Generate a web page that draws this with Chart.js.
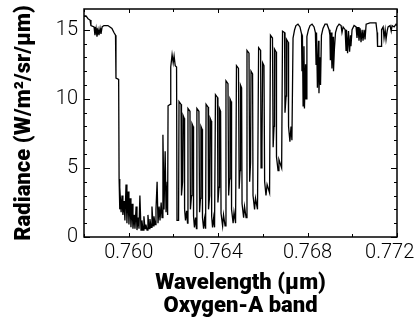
<!DOCTYPE html>
<html>
<head>
<meta charset="utf-8">
<script src="https://cdn.jsdelivr.net/npm/chart.js@4.4.1/dist/chart.umd.min.js"></script>
<style>
  html, body { margin: 0; padding: 0; background: #fff; }
  #wrap { width: 417px; height: 320px; }
</style>
</head>
<body>
<div id="wrap"><canvas id="grafico" width="417" height="320"></canvas></div>
<script>
// espectro (banda A do oxigênio)
const wavelength = [
  0.75800, 0.75809, 0.75818, 0.75827, 0.75831, 0.75845, 0.75849, 0.75854, 0.75858, 0.75863,
  0.75867, 0.75872, 0.75876, 0.75881, 0.75889, 0.75907, 0.75916, 0.75925, 0.75934, 0.75941,
  0.75943, 0.75955, 0.75957,
  0.75959, 0.75961, 0.75966, 0.75970, 0.75974, 0.75979, 0.75983, 0.75988, 0.75992, 0.75997,
  0.76001, 0.76006, 0.76010, 0.76015, 0.76019, 0.76024, 0.76028, 0.76033, 0.76037, 0.76042,
  0.76046, 0.76050, 0.76055, 0.76059, 0.76064, 0.76068, 0.76073, 0.76077, 0.76082, 0.76086,
  0.76091, 0.76095, 0.76100, 0.76104, 0.76109, 0.76113, 0.76118, 0.76122, 0.76127, 0.76131,
  0.76136, 0.76140, 0.76145, 0.76149, 0.76153, 0.76158, 0.76163, 0.76167, 0.76172, 0.76174,
  0.76176, 0.76185, 0.76188, 0.76194, 0.76199, 0.76203, 0.76208, 0.76214, 0.76216, 0.76223,
  0.76225, 0.76234, 0.76236, 0.76241, 0.76243, 0.76248, 0.76250, 0.76254, 0.76259, 0.76263,
  0.76265, 0.76274, 0.76276, 0.76281, 0.76283, 0.76288, 0.76290, 0.76294, 0.76299, 0.76303,
  0.76305, 0.76314, 0.76317, 0.76321, 0.76323, 0.76328, 0.76330, 0.76335, 0.76339, 0.76344,
  0.76346, 0.76355, 0.76357, 0.76362, 0.76364, 0.76369, 0.76371, 0.76375, 0.76380, 0.76384,
  0.76388, 0.76397, 0.76399, 0.76404, 0.76406, 0.76411, 0.76413, 0.76420, 0.76424, 0.76431,
  0.76435, 0.76444, 0.76447, 0.76451, 0.76453, 0.76458, 0.76460, 0.76467, 0.76471, 0.76478,
  0.76482, 0.76491, 0.76494, 0.76498, 0.76500, 0.76505, 0.76507, 0.76514, 0.76518, 0.76525,
  0.76529, 0.76538, 0.76541, 0.76545, 0.76547, 0.76554, 0.76556, 0.76563, 0.76567, 0.76576,
  0.76581, 0.76590, 0.76592, 0.76596, 0.76599, 0.76605, 0.76608, 0.76614, 0.76619, 0.76630,
  0.76634, 0.76643, 0.76646, 0.76650, 0.76652, 0.76659, 0.76661, 0.76668, 0.76672, 0.76684,
  0.76688, 0.76697, 0.76699, 0.76704, 0.76706, 0.76713, 0.76715, 0.76721, 0.76726, 0.76730,
  0.76735, 0.76742, 0.76748, 0.76757, 0.76766, 0.76773,
  0.76775, 0.76777, 0.76780, 0.76784, 0.76786, 0.76791, 0.76793, 0.76797, 0.76804, 0.76811,
  0.76820, 0.76829, 0.76835,
  0.76838, 0.76840, 0.76844, 0.76849, 0.76851, 0.76855, 0.76858, 0.76862, 0.76869, 0.76878,
  0.76887, 0.76896, 0.76900,
  0.76902, 0.76905, 0.76909, 0.76914, 0.76916, 0.76920, 0.76925, 0.76932, 0.76941, 0.76950,
  0.76954, 0.76959, 0.76968,
  0.76972, 0.76974, 0.76979, 0.76983, 0.76988, 0.76992, 0.76994, 0.76999, 0.77008, 0.77017,
  0.77021, 0.77026, 0.77030, 0.77035, 0.77039, 0.77044, 0.77048, 0.77053, 0.77057, 0.77062,
  0.77079, 0.77106, 0.77111, 0.77113, 0.77129, 0.77131, 0.77138, 0.77142, 0.77147, 0.77151,
  0.77156, 0.77160, 0.77169, 0.77174, 0.77178, 0.77187, 0.77196, 0.77200
];

const radiance = [
  16.0, 16.0, 15.8, 15.7, 15.3, 15.2, 14.6, 15.1, 14.5, 15.0,
  14.6, 15.1, 14.7, 15.2, 15.3, 15.3, 15.2, 15.1, 14.8, 14.6,
  11.5, 11.4, 4.2,
  2.0, 3.6, 1.8, 3.0, 1.6, 2.6, 1.2, 3.8, 1.0, 3.3,
  0.9, 2.8, 0.7, 2.4, 0.6, 1.6, 0.6, 2.2, 0.5, 1.4,
  0.6, 3.0, 0.5, 1.2, 0.5, 1.5, 0.6, 0.9, 0.5, 1.6,
  0.6, 1.3, 0.7, 2.2, 0.8, 1.5, 0.9, 2.0, 4.0, 1.0,
  2.2, 1.2, 2.5, 1.4, 7.4, 2.0, 6.2, 1.8, 4.0, 1.6,
  9.5, 9.6, 12.3, 13.2, 12.6, 13.1, 12.4, 12.3, 1.2, 1.2,
  9.8, 9.6, 3.0, 4.0, 8.8, 8.6, 2.0, 1.2, 1.9, 1.0,
  9.3, 9.1, 2.0, 3.0, 8.2, 8.0, 1.5, 0.7, 1.4, 0.6,
  9.3, 9.1, 1.8, 2.8, 8.0, 7.8, 1.4, 0.6, 1.3, 0.6,
  9.6, 9.4, 2.0, 3.0, 8.6, 8.4, 1.5, 0.7, 1.4, 0.7,
  10.3, 10.1, 2.5, 3.6, 9.3, 9.1, 1.7, 0.8, 1.6, 0.8,
  11.3, 11.1, 3.0, 4.2, 10.0, 9.8, 2.0, 1.0, 1.8, 1.0,
  12.4, 12.2, 3.5, 4.8, 11.0, 10.8, 2.4, 1.4, 2.2, 1.4,
  13.5, 13.3, 4.0, 5.4, 12.0, 11.8, 3.0, 2.0, 2.8, 2.0,
  13.7, 13.5, 5.0, 6.5, 12.6, 12.4, 4.0, 3.0, 3.8, 3.2,
  14.6, 14.4, 6.5, 8.0, 13.6, 13.4, 5.8, 4.8, 5.6, 5.0,
  14.9, 14.8, 9.0, 10.2, 14.3, 14.1, 8.0, 6.9, 8.0, 7.0,
  14.4, 15.0, 15.3, 15.4, 15.2, 14.7,
  12.0, 14.6, 9.5, 13.8, 9.3, 12.5, 10.0, 14.5, 15.0, 15.3,
  15.4, 15.2, 14.8,
  12.5, 14.8, 10.8, 14.2, 10.4, 13.0, 11.0, 14.6, 15.1, 15.4,
  15.4, 15.0, 14.6,
  12.8, 14.8, 12.2, 14.5, 12.0, 13.6, 14.8, 15.2, 15.4, 15.3,
  14.8, 15.2, 15.0,
  13.5, 15.0, 13.3, 14.9, 13.4, 14.6, 13.8, 15.0, 15.3, 15.2,
  14.4, 15.2, 14.2, 15.1, 14.1, 15.0, 14.2, 15.0, 14.3, 15.4,
  15.5, 15.5, 14.8, 13.8, 13.8, 15.0, 15.2, 14.4, 15.0, 14.3,
  14.9, 15.2, 15.3, 14.9, 15.3, 15.2, 15.4, 15.3
];

const xTickValues = [0.760, 0.764, 0.768, 0.772];
const xMinorTicks = [0.758, 0.760, 0.762, 0.764, 0.766, 0.768, 0.770, 0.772];
const yTickValues = [0, 5, 10, 15];
const yMinorTicks = [0, 1, 2, 3, 4, 5, 6, 7, 8, 9, 10, 11, 12, 13, 14, 15, 16];

const fonte = "Roboto, 'Liberation Sans', Arial, sans-serif";

// moldura fechada e ticks para dentro nos quatro lados
const moldura = {
  id: 'moldura',
  afterDatasetsDraw(chart) {
    const { ctx, chartArea: a, scales: { x, y } } = chart;
    ctx.save();
    ctx.strokeStyle = '#000';
    ctx.lineWidth = 1;
    ctx.beginPath();
    xMinorTicks.forEach((v) => {
      const px = Math.round(x.getPixelForValue(v)) + 0.5;
      const len = xTickValues.includes(v) ? 4 : 3;
      ctx.moveTo(px, a.bottom); ctx.lineTo(px, a.bottom - len);
      ctx.moveTo(px, a.top); ctx.lineTo(px, a.top + len);
    });
    yMinorTicks.forEach((v) => {
      const py = Math.round(y.getPixelForValue(v)) + 0.5;
      const len = yTickValues.includes(v) ? 6 : 3;
      ctx.moveTo(a.left, py); ctx.lineTo(a.left + len, py);
      ctx.moveTo(a.right, py); ctx.lineTo(a.right - len, py);
    });
    ctx.stroke();
    ctx.lineWidth = 1.5;
    ctx.strokeRect(a.left, a.top, a.right - a.left, a.bottom - a.top);
    ctx.restore();
  }
};

new Chart(document.getElementById('grafico'), {
  type: 'line',
  data: {
    datasets: [{
      data: wavelength.map((w, i) => ({ x: w, y: radiance[i] })),
      borderColor: '#000',
      borderWidth: 1.3,
      pointRadius: 0,
      tension: 0,
      fill: false,
    }],
  },
  options: {
    responsive: false,
    animation: false,
    devicePixelRatio: 1,
    layout: { padding: { top: 9, right: 20, left: 0, bottom: 0 } },
    plugins: { legend: { display: false }, tooltip: { enabled: false } },
    scales: {
      x: {
        type: 'linear',
        min: 0.758,
        max: 0.772,
        grid: { display: false, drawTicks: false },
        border: { display: false },
        afterBuildTicks: (s) => { s.ticks = xTickValues.map((v) => ({ value: v })); },
        afterFit: (s) => { s.height = 83; s.paddingLeft = 0; s.paddingRight = 0; },
        ticks: {
          color: '#000',
          padding: 6,
          autoSkip: false,
          maxRotation: 0,
          font: { family: fonte, size: 20, weight: 300, lineHeight: 1 },
          // o último rótulo fica um pouco recuado, como no original
          callback: (v) => Number(v).toFixed(3) + (v === 0.772 ? '   ' : ''),
        },
        title: {
          display: true,
          text: ['Wavelength (µm)', 'Oxygen-A band'],
          color: '#000',
          font: { family: fonte, size: 22, weight: 900, lineHeight: 1.05 },
          padding: { top: 0, bottom: 2 },
        },
      },
      y: {
        min: 0,
        max: 16.5,
        grid: { display: false, drawTicks: false },
        border: { display: false },
        afterBuildTicks: (s) => { s.ticks = yTickValues.map((v) => ({ value: v })); },
        afterFit: (s) => { s.width = 84; s.paddingTop = 0; s.paddingBottom = 0; },
        ticks: {
          color: '#000',
          padding: 6,
          autoSkip: false,
          font: { family: fonte, size: 20, weight: 300, lineHeight: 1 },
          callback: (v) => String(v),
        },
        title: {
          display: true,
          text: 'Radiance (W/m²/sr/µm)',
          color: '#000',
          font: { family: fonte, size: 22, weight: 900, lineHeight: 1 },
          padding: { top: 13, bottom: 0 },
        },
      },
    },
  },
  plugins: [moldura],
});
</script>
</body>
</html>
